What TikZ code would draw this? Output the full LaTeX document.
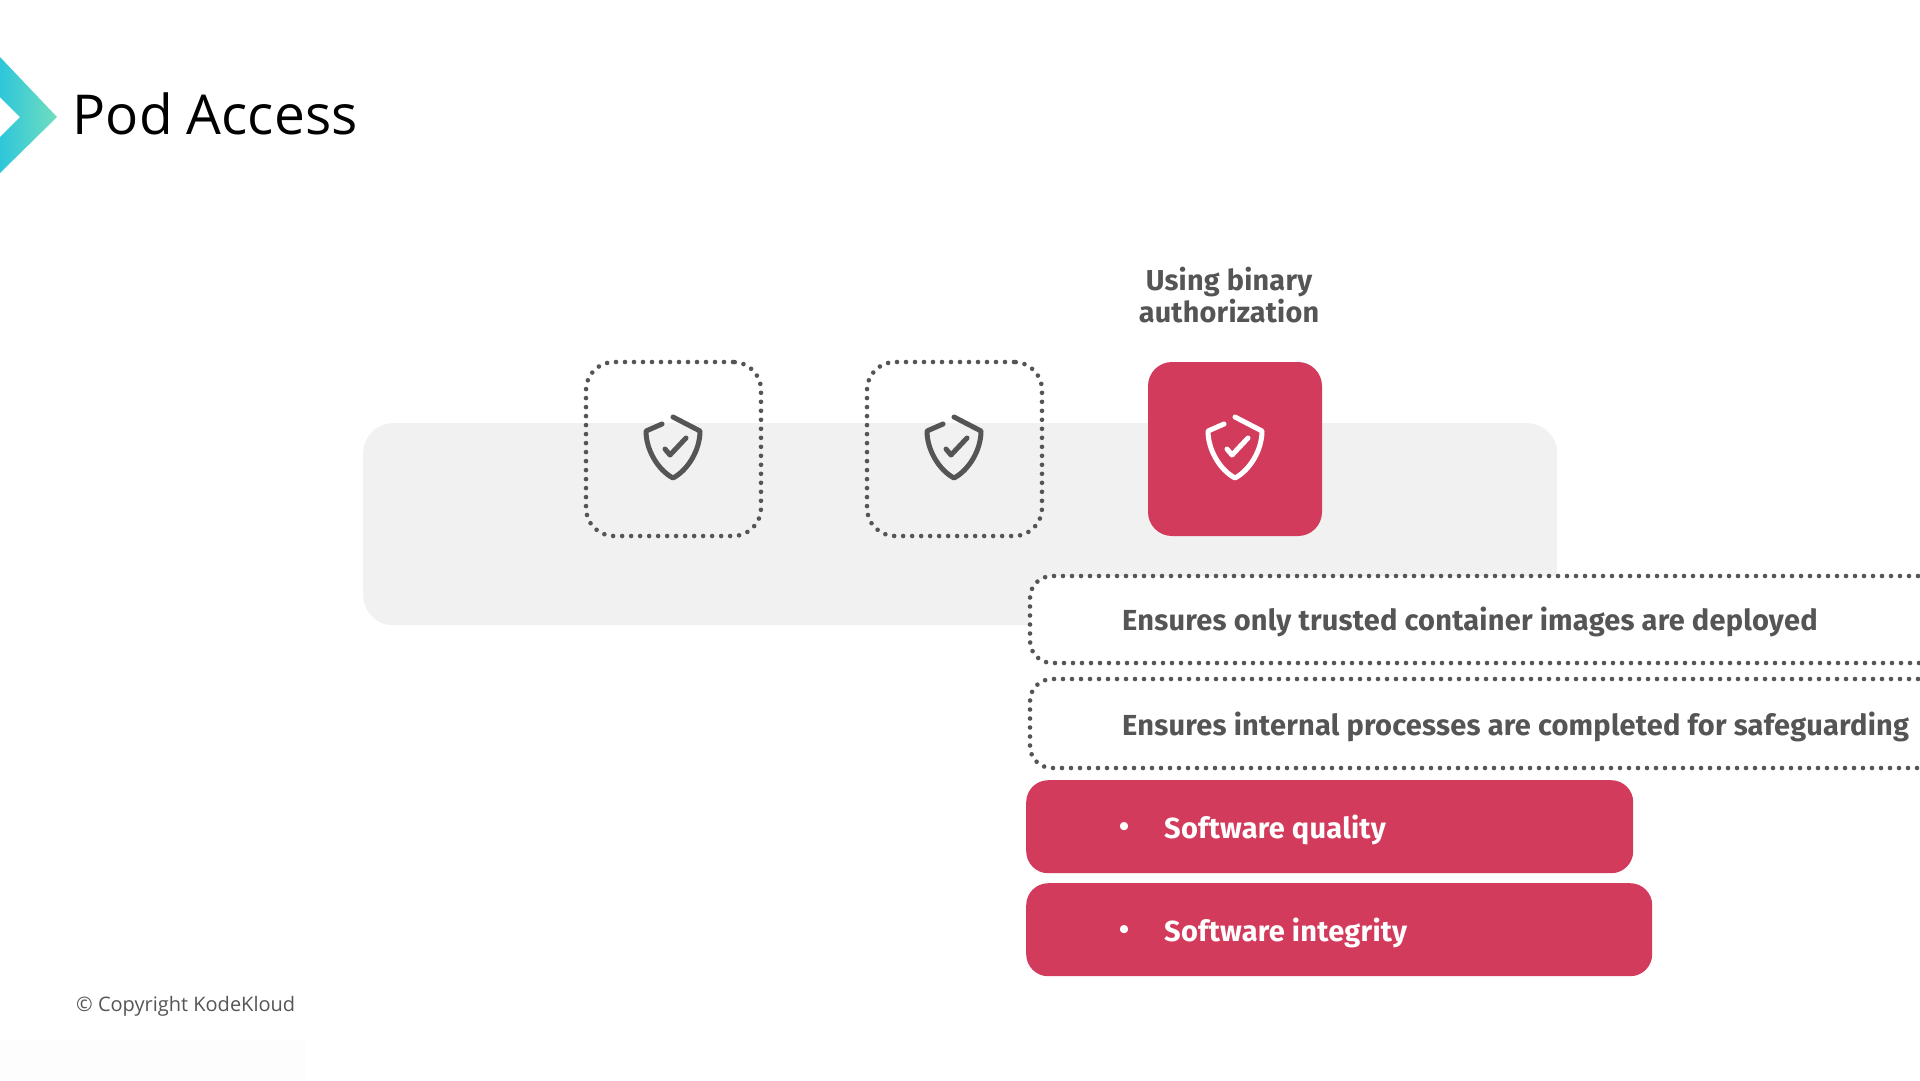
\documentclass[tikz,border=0pt]{standalone}
\usepackage{fontspec}
\setmainfont{Open Sans}
\newfontfamily\boldui[LetterSpace=0.8]{Fira Sans}
\definecolor{inkgray}{HTML}{555555}
\definecolor{crimson}{HTML}{D33B5C}
\definecolor{band}{HTML}{F1F1F1}
\definecolor{tealA}{HTML}{2EC6DA}
\definecolor{tealB}{HTML}{70DEBE}
\definecolor{faint}{HTML}{FDFDFD}
\tikzset{
  x=1pt,y=-1pt,
  dotbox/.style={draw=inkgray,line width=4.6pt,outer sep=0pt,line cap=round,dash pattern=on 0pt off 9pt,rounded corners=28pt,minimum width=175pt,minimum height=174pt,inner sep=0pt},
  redbox/.style={fill=crimson,rounded corners=24pt,minimum width=174pt,minimum height=174pt,inner sep=0pt},
  widedot/.style={draw=inkgray,fill=white,line width=4.6pt,outer sep=0pt,line cap=round,dash pattern=on 0pt off 9pt,rounded corners=22pt,anchor=north west,minimum width=1000pt,inner sep=0pt},
  redbar/.style={fill=crimson,rounded corners=22pt,anchor=north west,inner sep=0pt,minimum height=93pt},
  grayText/.style={font=\boldui\bfseries\fontsize{29}{34}\selectfont,text=inkgray,anchor=west,inner sep=0pt},
  whiteText/.style={font=\boldui\bfseries\fontsize{29}{34}\selectfont,text=white,anchor=west,inner sep=0pt},
  shieldicon/.pic={
    \draw[line width=5pt,line cap=round,line join=round,#1]
      (-11,-26) -- (-27,-19) .. controls (-27,0) and (-15,20) .. (0,28)
      .. controls (15,20) and (27,0) .. (27,-19) -- (0,-33);
    \draw[line width=5pt,line cap=round,line join=round,#1]
      (-8,-1) -- (-3,5) -- (13,-12);
  }
}
\begin{document}
\begin{tikzpicture}
\useasboundingbox (0,0) rectangle (1920,1080);
\fill[white] (0,0) rectangle (1920,1080);
\fill[faint] (0,1040) rectangle (305,1080);
% logo
\shade[left color=tealA,right color=tealB] (0,57) -- (57,117) -- (0,173) -- (0,137) -- (20,117) -- (0,97) -- cycle;
\node[font=\fontsize{55}{60}\selectfont,text=black,anchor=base west,inner sep=0pt] (title) at (72.5,134) {Pod Access};
% band
\node[fill=band,rounded corners=30pt,anchor=north west,minimum width=1194pt,minimum height=202pt,inner sep=0pt] (bandbox) at (363,423) {};
% icon boxes
\node[dotbox] (boxa) at (673.5,449) {};
\node[dotbox] (boxb) at (954.5,449) {};
\node[redbox] (boxc) at (1235,449) {};
\pic at (673,450) {shieldicon=inkgray};
\pic at (954,450) {shieldicon=inkgray};
\pic at (1235,450) {shieldicon=white};
\node[font=\boldui\bfseries\fontsize{28.8}{32}\selectfont,text=inkgray,align=center,inner sep=0pt] (heading) at (1229,295.5) {Using binary\\authorization};
% wide boxes
\node[widedot,minimum height=87pt] (wa) at (1030,576) {};
\node[widedot,minimum height=89pt] (wb) at (1030,679) {};
\node[grayText] (ta) at (1122,621.5) {Ensures only trusted container images are deployed};
\node[grayText] (tb) at (1122,726.5) {Ensures internal processes are completed for safeguarding};
% red bars
\node[redbar,minimum width=607pt] (ra) at (1026,780) {};
\node[redbar,minimum width=626pt] (rb) at (1026,883) {};
\node[whiteText] (ba) at (1119,829.5) {•};
\node[whiteText] (bb) at (1119,932.5) {•};
\node[whiteText] (qa) at (1164,829.5) {Software quality};
\node[whiteText] (qb) at (1164,932.5) {Software integrity};
% footer
\node[font=\fontsize{20}{24}\selectfont,text=inkgray,anchor=west,inner sep=0pt] (copy) at (76,1006) {© Copyright KodeKloud};
\end{tikzpicture}
\end{document}
